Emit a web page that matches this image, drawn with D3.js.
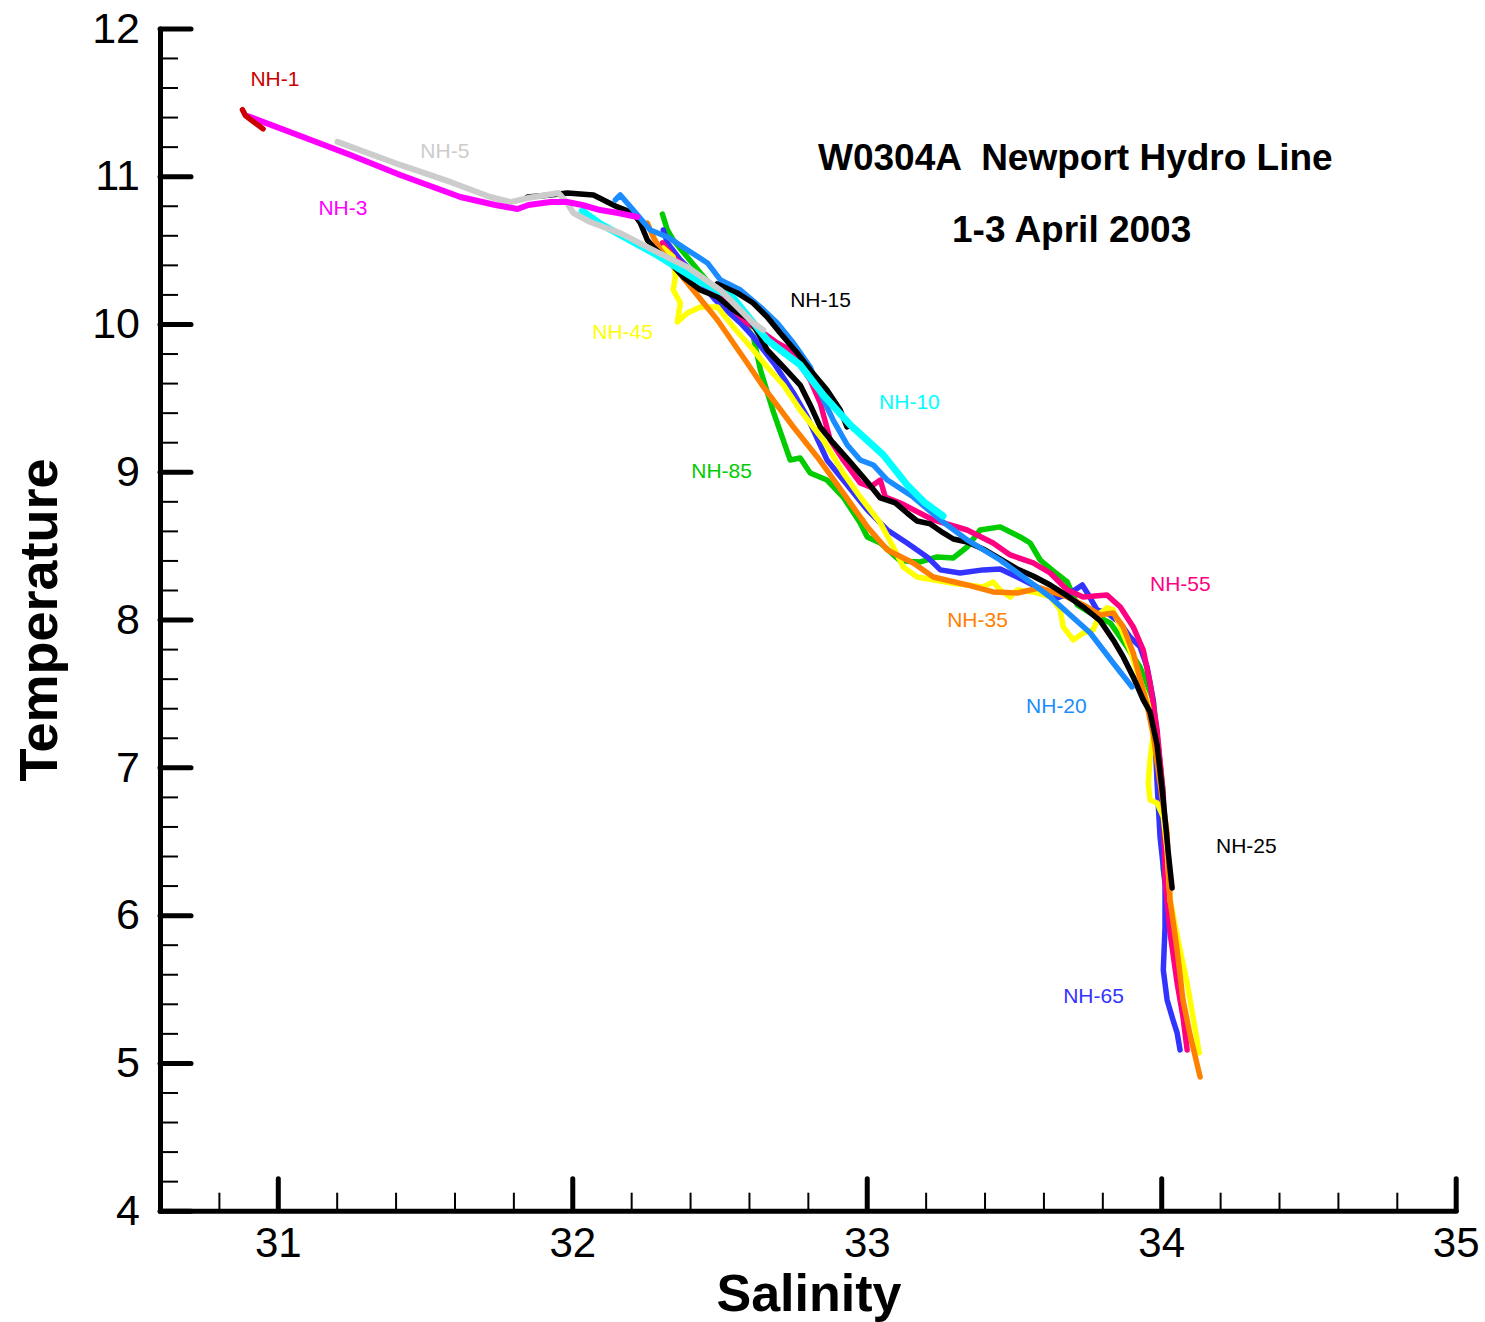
<!DOCTYPE html>
<html>
<head>
<meta charset="utf-8">
<script src="https://cdn.jsdelivr.net/npm/d3@7"></script>
<style>
  body { margin: 0; background: #fff; }
  svg { display: block; font-family: "Liberation Sans", Arial, sans-serif; }
</style>
</head>
<body>
<svg id="chart" width="1485" height="1322"></svg>
<script>
(function(d3) {
  "use strict";

  // salinity, temperature pairs
  var nh1 = [[30.88, 11.45], [30.89, 11.41], [30.91, 11.38], [30.95, 11.32]];

  var nh3 = [[30.897, 11.407], [31.077, 11.272], [31.247, 11.143], [31.416, 11.008], [31.620, 10.859],
    [31.739, 10.805], [31.814, 10.778], [31.851, 10.805], [31.926, 10.825], [31.983, 10.825],
    [32.034, 10.805], [32.095, 10.771], [32.156, 10.751], [32.221, 10.724]];

  var nh5 = [[31.203, 11.232], [31.416, 11.076], [31.586, 10.961], [31.722, 10.859], [31.790, 10.825],
    [31.848, 10.852], [31.953, 10.886], [31.983, 10.818], [32.004, 10.751], [32.061, 10.690],
    [32.163, 10.615], [32.275, 10.500], [32.391, 10.385], [32.503, 10.229], [32.615, 10.006],
    [32.649, 9.959]];

  var nh10 = [[32.034, 10.765], [32.095, 10.677], [32.275, 10.481], [32.435, 10.284], [32.547, 10.176],
    [32.662, 9.892], [32.774, 9.723], [32.852, 9.520], [32.944, 9.317], [33.056, 9.114],
    [33.137, 8.911], [33.198, 8.789], [33.259, 8.701]];

  var nh15 = [[32.492, 10.271], [32.560, 10.210], [32.614, 10.142], [32.662, 10.047], [32.706, 9.939],
    [32.764, 9.804], [32.808, 9.689], [32.865, 9.553], [32.910, 9.418], [32.933, 9.303]];

  var nh20 = [[32.146, 10.839], [32.163, 10.873], [32.207, 10.771], [32.265, 10.636], [32.323, 10.589],
    [32.391, 10.501], [32.459, 10.413], [32.503, 10.298], [32.571, 10.230], [32.639, 10.115],
    [32.696, 10.007], [32.751, 9.871], [32.808, 9.709], [32.842, 9.533], [32.886, 9.350],
    [32.934, 9.181], [32.978, 9.080], [33.022, 9.046], [33.070, 8.944], [33.158, 8.829],
    [33.250, 8.674], [33.341, 8.539], [33.453, 8.403], [33.623, 8.153], [33.759, 7.909],
    [33.837, 7.706], [33.901, 7.544]];

  var nh25 = [[31.848, 10.859], [31.926, 10.873], [31.983, 10.886], [32.072, 10.873], [32.153, 10.792],
    [32.207, 10.751], [32.231, 10.683], [32.255, 10.568], [32.275, 10.521], [32.323, 10.433],
    [32.377, 10.318], [32.435, 10.230], [32.493, 10.183], [32.547, 10.095], [32.605, 10.027],
    [32.639, 9.912], [32.662, 9.824], [32.717, 9.709], [32.774, 9.587], [32.808, 9.452],
    [32.842, 9.303], [32.886, 9.195], [32.944, 9.066], [33.002, 8.931], [33.046, 8.823],
    [33.097, 8.789], [33.137, 8.721], [33.171, 8.667], [33.216, 8.647], [33.260, 8.586],
    [33.294, 8.545], [33.341, 8.525], [33.395, 8.478], [33.453, 8.410], [33.511, 8.342],
    [33.565, 8.295], [33.623, 8.234], [33.681, 8.160], [33.735, 8.085], [33.793, 7.991],
    [33.837, 7.862], [33.871, 7.747], [33.905, 7.612], [33.939, 7.456], [33.962, 7.375],
    [33.986, 7.151], [34.007, 6.779], [34.023, 6.441], [34.037, 6.184]];

  var nh35 = [[32.255, 10.683], [32.275, 10.589], [32.299, 10.501], [32.391, 10.277], [32.493, 10.027],
    [32.594, 9.736], [32.649, 9.574], [32.751, 9.303], [32.832, 9.100], [32.920, 8.857],
    [33.002, 8.627], [33.070, 8.471], [33.158, 8.383], [33.226, 8.288], [33.341, 8.234],
    [33.429, 8.187], [33.511, 8.180], [33.589, 8.214], [33.681, 8.153], [33.749, 8.085],
    [33.793, 8.031], [33.837, 8.045], [33.871, 7.950], [33.905, 7.774], [33.952, 7.422],
    [33.973, 7.219], [33.996, 6.894], [34.020, 6.556], [34.030, 6.103], [34.054, 5.765],
    [34.074, 5.426], [34.098, 5.189], [34.132, 4.905]];

  var nh45 = [[32.309, 10.514], [32.343, 10.453], [32.350, 10.318], [32.343, 10.230], [32.367, 10.142],
    [32.357, 10.014], [32.391, 10.074], [32.435, 10.115], [32.493, 10.115], [32.547, 9.980],
    [32.615, 9.824], [32.662, 9.709], [32.717, 9.587], [32.774, 9.418], [32.852, 9.215],
    [32.920, 8.992], [32.978, 8.829], [33.046, 8.654], [33.090, 8.491], [33.124, 8.356],
    [33.171, 8.288], [33.284, 8.248], [33.395, 8.221], [33.429, 8.254], [33.453, 8.200],
    [33.487, 8.153], [33.511, 8.200], [33.565, 8.187], [33.623, 8.153], [33.657, 8.065],
    [33.667, 7.950], [33.701, 7.862], [33.735, 7.909], [33.769, 7.930], [33.793, 8.045],
    [33.816, 8.079], [33.837, 8.065], [33.861, 7.950], [33.894, 7.794], [33.928, 7.591],
    [33.956, 7.422], [33.973, 7.219], [33.962, 7.050], [33.956, 6.894], [33.962, 6.779],
    [33.986, 6.759], [34.007, 6.664], [34.020, 6.441], [34.030, 6.103], [34.064, 5.765],
    [34.088, 5.541], [34.108, 5.311], [34.129, 5.068]];

  var nh55 = [[32.306, 10.548], [32.343, 10.453], [32.411, 10.345], [32.503, 10.183], [32.594, 10.007],
    [32.649, 9.939], [32.696, 9.871], [32.740, 9.824], [32.808, 9.621], [32.842, 9.466],
    [32.876, 9.215], [32.920, 9.080], [32.978, 8.924], [33.012, 8.897], [33.046, 8.944],
    [33.063, 8.829], [33.114, 8.789], [33.226, 8.674], [33.341, 8.606], [33.429, 8.518],
    [33.487, 8.437], [33.565, 8.383], [33.623, 8.315], [33.681, 8.200], [33.735, 8.153],
    [33.816, 8.166], [33.861, 8.085], [33.905, 7.950], [33.939, 7.794], [33.962, 7.571],
    [33.986, 7.253], [34.007, 6.813], [34.013, 6.238], [34.030, 5.880], [34.054, 5.541],
    [34.074, 5.311], [34.088, 5.088]];

  var nh65 = [[32.309, 10.636], [32.323, 10.548], [32.367, 10.433], [32.401, 10.365], [32.486, 10.162],
    [32.571, 10.007], [32.615, 9.912], [32.689, 9.723], [32.751, 9.533], [32.798, 9.371],
    [32.865, 9.080], [32.920, 8.944], [33.002, 8.742], [33.070, 8.606], [33.137, 8.518],
    [33.205, 8.424], [33.250, 8.336], [33.317, 8.315], [33.395, 8.336], [33.453, 8.342],
    [33.511, 8.288], [33.565, 8.234], [33.647, 8.146], [33.691, 8.180], [33.732, 8.234],
    [33.749, 8.180], [33.782, 8.065], [33.816, 8.045], [33.861, 7.977], [33.894, 7.882],
    [33.928, 7.815], [33.952, 7.679], [33.973, 7.456], [33.986, 6.894], [33.996, 6.529],
    [34.013, 6.218], [34.013, 5.920], [34.007, 5.629], [34.020, 5.426], [34.040, 5.291],
    [34.054, 5.203], [34.064, 5.088]];

  var nh85 = [[32.306, 10.744], [32.323, 10.636], [32.343, 10.568], [32.435, 10.345], [32.547, 10.095],
    [32.615, 9.912], [32.628, 9.790], [32.639, 9.689], [32.683, 9.405], [32.740, 9.080],
    [32.774, 9.093], [32.808, 8.992], [32.865, 8.944], [32.920, 8.829], [32.978, 8.654],
    [33.002, 8.559], [33.046, 8.518], [33.114, 8.397], [33.182, 8.390], [33.239, 8.424],
    [33.294, 8.417], [33.341, 8.491], [33.385, 8.606], [33.453, 8.627], [33.521, 8.559],
    [33.555, 8.518], [33.589, 8.403], [33.633, 8.329], [33.681, 8.254], [33.715, 8.099],
    [33.759, 8.045], [33.827, 7.977], [33.884, 7.815], [33.928, 7.679], [33.973, 7.456],
    [34.007, 6.827], [34.007, 6.306], [34.047, 5.765], [34.064, 5.494], [34.081, 5.223]];

  // drawing order: first drawn ends up underneath
  var stations = ["NH-85", "NH-65", "NH-55", "NH-45", "NH-35", "NH-25", "NH-20", "NH-15", "NH-10", "NH-5", "NH-3", "NH-1"];

  var traces = {
    "NH-1": nh1, "NH-3": nh3, "NH-5": nh5, "NH-10": nh10, "NH-15": nh15, "NH-20": nh20,
    "NH-25": nh25, "NH-35": nh35, "NH-45": nh45, "NH-55": nh55, "NH-65": nh65, "NH-85": nh85
  };

  // where each station name sits, in salinity / temperature
  var labelAt = {
    "NH-1": [30.907, 11.610], "NH-3": [31.138, 10.737], "NH-5": [31.484, 11.123],
    "NH-10": [33.042, 9.425], "NH-15": [32.740, 10.115], "NH-20": [33.541, 7.368],
    "NH-25": [34.186, 6.421], "NH-35": [33.273, 7.950], "NH-45": [32.068, 9.899],
    "NH-55": [33.962, 8.194], "NH-65": [33.667, 5.406], "NH-85": [32.404, 8.958]
  };

  var xMajor = [31, 32, 33, 34, 35];
  var xMinor = [30.8, 31.2, 31.4, 31.6, 31.8, 32.2, 32.4, 32.6, 32.8, 33.2, 33.4, 33.6, 33.8, 34.2, 34.4, 34.6, 34.8];
  var yMajor = [4, 5, 6, 7, 8, 9, 10, 11, 12];
  var yMinor = d3.range(4.2, 12, 0.2).filter(function(v) { return Math.abs(v - Math.round(v)) > 0.01; });

  var colors = {
    "NH-1": "#cc0000", "NH-3": "#ff00ff", "NH-5": "#cccccc", "NH-10": "#00ffff",
    "NH-15": "#000000", "NH-20": "#1a8cff", "NH-25": "#000000", "NH-35": "#ff8000",
    "NH-45": "#ffff00", "NH-55": "#ff0080", "NH-65": "#3333ff", "NH-85": "#00cc00"
  };

  var widths = { "NH-10": 7, "NH-5": 6, "NH-3": 6 };

  var svg = d3.select("#chart");

  var x = d3.scaleLinear().domain([30.6, 35]).range([160, 1455.7]);
  var y = d3.scaleLinear().domain([4, 12]).range([1210.7, 28.4]);

  var line = d3.line()
      .x(function(d) { return x(d[0]); })
      .y(function(d) { return y(d[1]); });

  svg.append("g")
      .attr("class", "traces")
    .selectAll("path")
      .data(stations)
    .enter().append("path")
      .attr("d", function(d) { return line(traces[d]); })
      .attr("fill", "none")
      .attr("stroke", function(d) { return colors[d]; })
      .attr("stroke-width", function(d) { return widths[d] || 5.5; })
      .attr("stroke-linejoin", "round")
      .attr("stroke-linecap", "round");

  svg.append("g")
      .attr("class", "station-labels")
    .selectAll("text")
      .data(stations)
    .enter().append("text")
      .attr("x", function(d) { return x(labelAt[d][0]); })
      .attr("y", function(d) { return y(labelAt[d][1]); })
      .attr("fill", function(d) { return colors[d]; })
      .style("font-size", "21px")
      .text(function(d) { return d; });

  // minor ticks first, then the major axis on top
  svg.append("g")
      .attr("transform", "translate(0,1210.7)")
      .call(d3.axisBottom(x).tickValues(xMinor).tickSize(-18).tickFormat(""))
      .call(function(g) {
        g.select(".domain").remove();
        g.selectAll("line").attr("stroke-width", 2);
      });

  svg.append("g")
      .attr("transform", "translate(160,0)")
      .call(d3.axisLeft(y).tickValues(yMinor).tickSize(-18).tickFormat(""))
      .call(function(g) {
        g.select(".domain").remove();
        g.selectAll("line").attr("stroke-width", 2);
      });

  svg.append("g")
      .attr("transform", "translate(0,1210.7)")
      .call(d3.axisBottom(x).tickValues(xMajor).tickSize(-32).tickSizeOuter(0).tickPadding(16).tickFormat(d3.format("d")))
      .call(function(g) {
        g.select(".domain").attr("stroke-width", 5).attr("stroke-linecap", "round");
        g.selectAll("line").attr("stroke-width", 5).attr("stroke-linecap", "round");
        g.selectAll("text").style("font-size", "42px").attr("fill", "#000").style("font-family", "'Liberation Sans', Arial, sans-serif");
      });

  svg.append("g")
      .attr("transform", "translate(160,0)")
      .call(d3.axisLeft(y).tickValues(yMajor).tickSize(-31).tickSizeOuter(0).tickPadding(20).tickFormat(d3.format("d")))
      .call(function(g) {
        g.select(".domain").attr("stroke-width", 5).attr("stroke-linecap", "round");
        g.selectAll("line").attr("stroke-width", 5).attr("stroke-linecap", "round");
        g.selectAll("text").style("font-size", "43px").attr("fill", "#000").style("font-family", "'Liberation Sans', Arial, sans-serif");
      });

  svg.append("text")
      .attr("x", 809)
      .attr("y", 1311)
      .attr("text-anchor", "middle")
      .style("font-size", "52px")
      .style("font-weight", "bold")
      .text("Salinity");

  svg.append("text")
      .attr("transform", "translate(57,620) rotate(-90)")
      .attr("text-anchor", "middle")
      .style("font-size", "54px")
      .style("font-weight", "bold")
      .text("Temperature");

  svg.append("text")
      .attr("x", 818)
      .attr("y", 170)
      .style("font-size", "37px")
      .style("font-weight", "bold")
      .style("white-space", "pre")
      .text("W0304A  Newport Hydro Line");

  svg.append("text")
      .attr("x", 952)
      .attr("y", 242)
      .style("font-size", "37px")
      .style("font-weight", "bold")
      .text("1-3 April 2003");

}(d3));
</script>
</body>
</html>
